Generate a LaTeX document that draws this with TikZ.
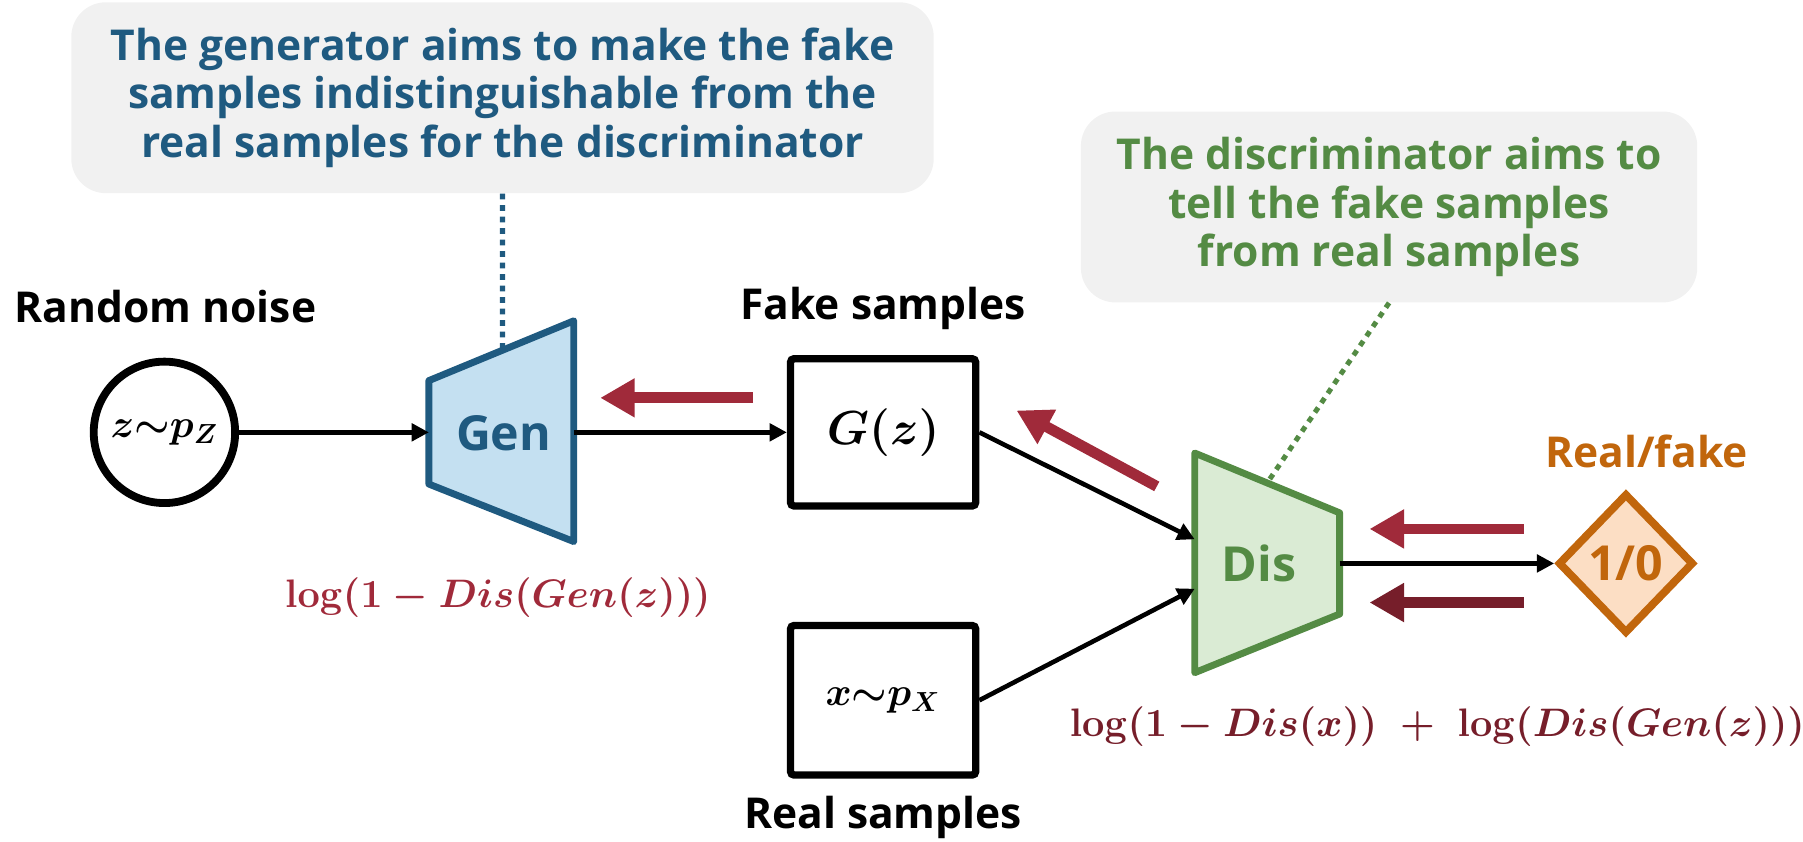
\documentclass[tikz,border=0pt]{standalone}
\usepackage[no-math]{fontspec}
\setmainfont{Open Sans}
\usetikzlibrary{arrows.meta,shapes.geometric,calc}
\definecolor{genblue}{RGB}{31,90,128}
\definecolor{genfill}{RGB}{196,224,241}
\definecolor{disgreen}{RGB}{84,139,68}
\definecolor{disfill}{RGB}{218,235,212}
\definecolor{outorange}{RGB}{193,102,12}
\definecolor{outfill}{RGB}{252,222,196}
\definecolor{callgray}{RGB}{241,241,241}
\definecolor{lossred}{RGB}{160,42,58}
\definecolor{lossmaroon}{RGB}{118,30,42}
\begin{document}
\begin{tikzpicture}[x=0.5pt,y=-0.5pt,
  lab/.style={font=\bfseries\fontsize{18.5}{21}\selectfont, inner sep=0pt},
  big/.style={font=\bfseries\fontsize{21}{25}\selectfont, inner sep=0pt},
  mth/.style={font=\fontsize{20}{24}\selectfont\boldmath, inner sep=0pt},
  smth/.style={font=\fontsize{18.5}{22}\selectfont\boldmath, inner sep=0pt},
  loss/.style={font=\fontsize{17.5}{20}\selectfont\boldmath, inner sep=0pt},
  callbox/.style={fill=callgray, rounded corners=15pt, align=center, font=\bfseries\fontsize{18.5}{21}\selectfont, minimum height=83pt, inner sep=0pt},
  blk/.style={draw=black, line width=2pt, -{Triangle[length=7.5pt,width=7.5pt]}},
  fb/.style={line width=4.7pt, -{Triangle[length=15pt,width=16pt]}},
  sample/.style={draw=black, line width=3.2pt, rounded corners=1.5pt, minimum width=80.5pt, minimum height=64pt, inner sep=0pt},
  dots/.style={line width=2.2pt, dash pattern=on 2.5pt off 2.5pt},
  trap/.style={line width=3pt, line join=round},
]
\useasboundingbox (0,0) rectangle (1568,732);

% callouts
\node[callbox, text=genblue, minimum width=375pt] (gcall) at (437,85)
  {The generator aims to make the fake\\samples indistinguishable from the\\real samples for the discriminator};
\node[callbox, text=disgreen, minimum width=268pt] (dcall) at (1208,180)
  {The discriminator aims to\\tell the fake samples\\from real samples};

% generator
\coordinate (gTL) at (373,331);
\coordinate (gBL) at (373,421);
\coordinate (gTR) at (499,279);
\coordinate (gBR) at (499,471);
\draw[trap, draw=genblue, fill=genfill] (gTL) -- (gTR) -- (gBR) -- (gBL) -- cycle;
\node[big, text=genblue] (gen) at (438,377) {Gen};
\coordinate (gIn) at (373,376);
\coordinate (gOut) at (499,376);
\coordinate (gTop) at ($(gTL)!0.508!(gTR)$);

% discriminator
\coordinate (dTL) at (1039,394);
\coordinate (dBL) at (1039,585);
\coordinate (dTR) at (1165,446);
\coordinate (dBR) at (1165,534);
\draw[trap, draw=disgreen, fill=disfill] (dTL) -- (dTR) -- (dBR) -- (dBL) -- cycle;
\node[big, text=disgreen] (dis) at (1095,490) {Dis};
\coordinate (dIn1) at (1039,469);
\coordinate (dIn2) at (1039,512);
\coordinate (dOut) at (1165,490);
\coordinate (dTop) at ($(dTL)!0.5!(dTR)$);

% dotted leaders
\draw[dots, genblue] (gcall.south) -- (gTop);
\draw[dots, disgreen] (dcall.south) -- (dTop);

% noise
\node[lab] (noiselab) at (144,267) {Random noise};
\node[circle, draw, line width=3.4pt, minimum size=61.5pt, inner sep=0pt, smth] (noise) at (143,376) {$z{\sim}p_Z$};

% samples
\node[lab] (fakelab) at (768,268) {Fake samples};
\node[sample, mth] (gz) at (768,376) {$G(z)$};
\node[sample, smth, minimum height=65pt] (xs) at (768,609) {$x{\sim}p_X$};
\node[lab] (reallab) at (768,711) {Real samples};

% output
\node[lab, text=outorange] (rf) at (1432,393) {Real/fake};
\node[diamond, draw=outorange, fill=outfill, line width=3.4pt, minimum width=59pt, minimum height=61pt, inner sep=0pt, big, text=outorange] (out) at (1414,490) {1/0};

% losses
\node[loss, text=lossred] (gloss) at (433,520) {$\log(1-Dis(Gen(z)))$};
\node[loss, text=lossmaroon] (dloss) at (1250,632) {$\log(1-Dis(x))\;+\;\log(Dis(Gen(z)))$};

% data-flow arrows
\draw[blk] (noise) -- (gIn);
\draw[blk] (gOut) -- (gz.west);
\draw[blk] (gz.east) -- (dIn1);
\draw[blk] (xs.east) -- (dIn2);
\draw[blk] (dOut) -- (out.west);

% feedback arrows
\coordinate (f1s) at (655,346); \coordinate (f1e) at (522,346);
\coordinate (f2s) at (1006,423); \coordinate (f2e) at (884,357);
\coordinate (f3s) at (1325,460); \coordinate (f3e) at (1191,460);
\coordinate (f4s) at (1325,524); \coordinate (f4e) at (1191,524);
\draw[fb, lossred] (f1s) -- (f1e);
\draw[fb, lossred] (f2s) -- (f2e);
\draw[fb, lossred] (f3s) -- (f3e);
\draw[fb, lossmaroon] (f4s) -- (f4e);
\end{tikzpicture}
\end{document}
